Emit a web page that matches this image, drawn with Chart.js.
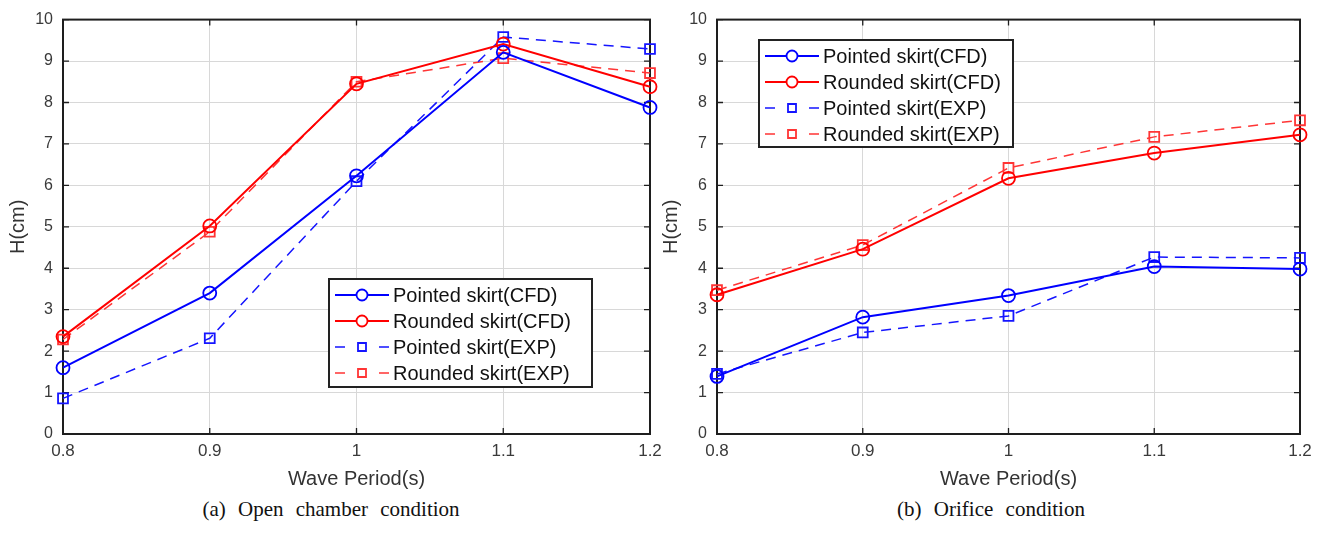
<!DOCTYPE html>
<html>
<head>
<meta charset="utf-8">
<script src="https://cdn.jsdelivr.net/npm/chart.js@4/dist/chart.umd.min.js"></script>
<style>
  body { margin: 0; background: #fff; width: 1326px; height: 533px; position: relative; overflow: hidden; }
  canvas { position: absolute; top: 0; }
  .cap { position: absolute; top: 497px; font-family: "Liberation Serif", "Times New Roman", serif; font-size: 21px;
         color: #111; word-spacing: 7px; white-space: nowrap; transform: translateX(-50%); }
</style>
</head>
<body>
<canvas id="chartA" width="663" height="495" style="left:0"></canvas>
<canvas id="chartB" width="669" height="495" style="left:657px"></canvas>
<div class="cap" style="left:331px">(a) Open chamber condition</div>
<div class="cap" style="left:991px">(b) Orifice condition</div>

<script>
// wave periods (s) and tick labels
var periods = [0.8, 0.9, 1.0, 1.1, 1.2];
var xTickLabels = ['0.8', '0.9', '1', '1.1', '1.2'];
var yTickLabels = ['0', '1', '2', '3', '4', '5', '6', '7', '8', '9', '10'];
var seriesNames = ['Pointed skirt(CFD)', 'Rounded skirt(CFD)', 'Pointed skirt(EXP)', 'Rounded skirt(EXP)'];

// (a) open chamber condition, H (cm)
var openPointedCFD = [1.6, 3.4, 6.23, 9.21, 7.88];
var openRoundedCFD = [2.35, 5.02, 8.45, 9.41, 8.38];
var openPointedEXP = [0.86, 2.31, 6.1, 9.58, 9.29];
var openRoundedEXP = [2.28, 4.88, 8.5, 9.07, 8.71];

// (b) orifice condition, H (cm)
var orifPointedCFD = [1.39, 2.82, 3.34, 4.04, 3.98];
var orifRoundedCFD = [3.36, 4.46, 6.17, 6.78, 7.22];
var orifPointedEXP = [1.45, 2.45, 2.85, 4.27, 4.25];
var orifRoundedEXP = [3.47, 4.56, 6.42, 7.17, 7.57];

var sans = '"Liberation Sans", Arial, sans-serif';

// line look of each series (same order as seriesNames)
var looks = [
  { color: '#0000ff', width: 2,   dash: [],      point: 'circle', r: 6.5 },
  { color: '#ff0000', width: 2,   dash: [],      point: 'circle', r: 6.5 },
  { color: '#1515ff', width: 1.5, dash: [10, 7], point: 'rect',   r: 7 },
  { color: '#ff3535', width: 1.5, dash: [10, 7], point: 'rect',   r: 7 }
];

// axes box with inward tick marks (matlab style)
var framePlugin = {
  id: 'frame',
  beforeDatasetsDraw: function (chart) {
    var a = chart.chartArea, ctx = chart.ctx;
    var xs = chart.scales.x, ys = chart.scales.y;
    ctx.save();
    ctx.strokeStyle = '#1e1e1e';
    ctx.lineWidth = 1.3;
    ctx.beginPath();
    periods.forEach(function (p) {
      var px = xs.getPixelForValue(p);
      ctx.moveTo(px, a.bottom); ctx.lineTo(px, a.bottom - 6);
      ctx.moveTo(px, a.top); ctx.lineTo(px, a.top + 6);
    });
    yTickLabels.forEach(function (t) {
      var py = ys.getPixelForValue(Number(t));
      ctx.moveTo(a.left, py); ctx.lineTo(a.left + 6, py);
      ctx.moveTo(a.right, py); ctx.lineTo(a.right - 6, py);
    });
    ctx.stroke();
    ctx.lineWidth = 2;
    ctx.strokeRect(a.left, a.top, a.right - a.left, a.bottom - a.top);
    ctx.restore();
  }
};

// boxed legend placed inside the plot
var boxLegend = {
  id: 'boxLegend',
  afterDraw: function (chart, args, o) {
    var ctx = chart.ctx;
    ctx.save();
    ctx.fillStyle = '#fff';
    ctx.fillRect(o.x, o.y, o.w, o.h);
    ctx.lineWidth = 2;
    ctx.strokeStyle = '#222';
    ctx.strokeRect(o.x, o.y, o.w, o.h);
    chart.data.datasets.forEach(function (ds, i) {
      var cy = o.y + 16 + i * 26;
      var x0 = o.x + 6, x1 = o.x + 60, mx = o.x + 33;
      ctx.strokeStyle = ds.borderColor;
      ctx.lineWidth = ds.borderWidth;
      ctx.beginPath();
      if (ds.borderDash.length) {
        ctx.moveTo(x0, cy); ctx.lineTo(x0 + 10, cy);
        ctx.moveTo(x1 - 10, cy); ctx.lineTo(x1, cy);
      } else {
        ctx.moveTo(x0, cy); ctx.lineTo(x1, cy);
      }
      ctx.stroke();
      ctx.lineWidth = 1.8;
      ctx.fillStyle = '#fff';
      ctx.beginPath();
      if (ds.pointStyle === 'circle') {
        ctx.arc(mx, cy, 5.5, 0, Math.PI * 2);
      } else {
        ctx.rect(mx - 4, cy - 4, 8, 8);
      }
      ctx.fill();
      ctx.stroke();
      ctx.fillStyle = '#111';
      ctx.font = '20px ' + sans;
      ctx.textBaseline = 'middle';
      ctx.fillText(ds.label, o.x + 64, cy + 1);
    });
    ctx.restore();
  }
};

function makeChart(id, series, axisLeft, titlePad, legendBox) {
  var datasets = series.map(function (vals, i) {
    var lk = looks[i];
    return {
      label: seriesNames[i],
      data: periods.map(function (p, j) { return { x: p, y: vals[j] }; }),
      borderColor: lk.color,
      borderWidth: lk.width,
      borderDash: lk.dash,
      pointStyle: lk.point,
      pointRadius: lk.r,
      pointBorderWidth: 1.8,
      pointBorderColor: lk.color,
      pointBackgroundColor: 'rgba(255,255,255,0)',
      tension: 0,
      clip: false
    };
  });

  return new Chart(document.getElementById(id), {
    type: 'line',
    data: { datasets: datasets },
    options: {
      responsive: false,
      animation: false,
      layout: { padding: { left: 0, top: 18, right: legendBox.rightPad, bottom: 0 } },
      plugins: {
        legend: { display: false },
        tooltip: { enabled: false },
        boxLegend: legendBox
      },
      scales: {
        x: {
          type: 'linear', min: 0.8, max: 1.2,
          afterBuildTicks: function (s) { s.ticks = periods.map(function (p) { return { value: p }; }); },
          afterFit: function (s) { s.height = 61; s.paddingLeft = 0; s.paddingRight = 0; },
          ticks: {
            callback: function (v, i) { return xTickLabels[i]; },
            font: { family: sans, size: 17 }, color: '#3a3a3a', padding: 7, maxRotation: 0
          },
          grid: { color: '#d8d8d8', lineWidth: 1, drawTicks: false },
          border: { display: false },
          title: { display: true, text: 'Wave Period(s)', font: { family: sans, size: 20 }, color: '#333',
                   padding: { top: 4, bottom: 4 } }
        },
        y: {
          min: 0, max: 10,
          afterBuildTicks: function (s) { s.ticks = yTickLabels.map(function (t) { return { value: Number(t) }; }); },
          afterFit: function (s) { s.width = axisLeft; },
          ticks: {
            callback: function (v, i) { return yTickLabels[i]; },
            font: { family: sans, size: 16 }, color: '#3a3a3a', padding: 10
          },
          grid: { color: '#d8d8d8', lineWidth: 1, drawTicks: false },
          border: { display: false },
          title: { display: true, text: 'H(cm)', font: { family: sans, size: 20 }, color: '#333',
                   padding: { top: titlePad, bottom: 0 } }
        }
      }
    },
    plugins: [framePlugin, boxLegend]
  });
}

makeChart('chartA', [openPointedCFD, openRoundedCFD, openPointedEXP, openRoundedEXP], 63, 6,
  { x: 329, y: 279, w: 263, h: 108, rightPad: 13 });
makeChart('chartB', [orifPointedCFD, orifRoundedCFD, orifPointedEXP, orifRoundedEXP], 60, 2,
  { x: 102, y: 40, w: 254, h: 107, rightPad: 26 });
</script>
</body>
</html>
